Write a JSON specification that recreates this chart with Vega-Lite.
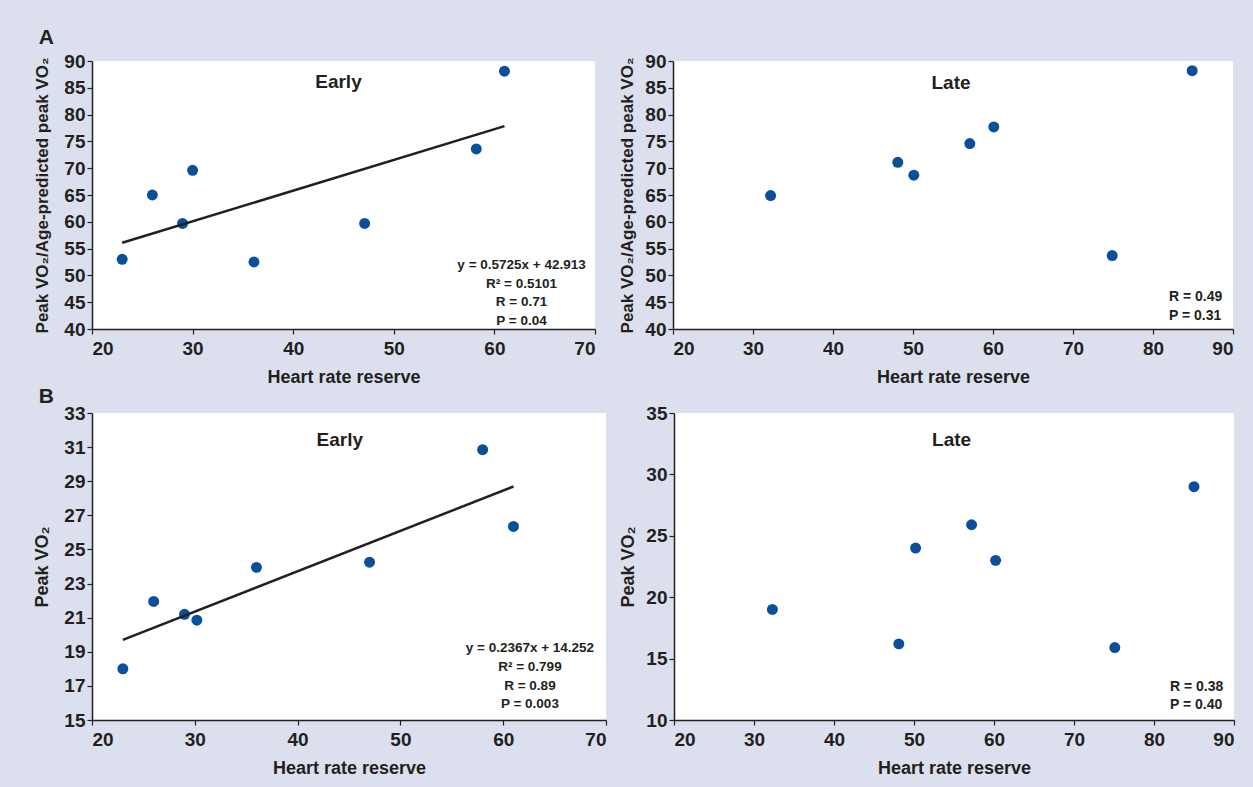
{
  "$schema": "https://vega.github.io/schema/vega-lite/v6.json",
  "background": "#dcdfee",
  "padding": {"left": 33, "top": 27, "right": 19, "bottom": 14},
  "spacing": 0,
  "datasets": {
    "points": [
      {"panel": "pctEarly", "hrr": 23, "value": 53.0},
      {"panel": "pctEarly", "hrr": 26, "value": 65.0},
      {"panel": "pctEarly", "hrr": 29, "value": 59.7},
      {"panel": "pctEarly", "hrr": 30, "value": 69.6},
      {"panel": "pctEarly", "hrr": 36.1, "value": 52.5},
      {"panel": "pctEarly", "hrr": 47.1, "value": 59.7},
      {"panel": "pctEarly", "hrr": 58.2, "value": 73.6},
      {"panel": "pctEarly", "hrr": 61, "value": 88.1},
      {"panel": "pctLate", "hrr": 32.2, "value": 64.9},
      {"panel": "pctLate", "hrr": 48.1, "value": 71.1},
      {"panel": "pctLate", "hrr": 50.1, "value": 68.7},
      {"panel": "pctLate", "hrr": 57.1, "value": 74.6},
      {"panel": "pctLate", "hrr": 60.1, "value": 77.7},
      {"panel": "pctLate", "hrr": 74.9, "value": 53.7},
      {"panel": "pctLate", "hrr": 84.9, "value": 88.2},
      {"panel": "vo2Early", "hrr": 23, "value": 18.0},
      {"panel": "vo2Early", "hrr": 26, "value": 21.95},
      {"panel": "vo2Early", "hrr": 29, "value": 21.2},
      {"panel": "vo2Early", "hrr": 30.2, "value": 20.85},
      {"panel": "vo2Early", "hrr": 36, "value": 23.95},
      {"panel": "vo2Early", "hrr": 47, "value": 24.25},
      {"panel": "vo2Early", "hrr": 58, "value": 30.85},
      {"panel": "vo2Early", "hrr": 61, "value": 26.35},
      {"panel": "vo2Late", "hrr": 32.3, "value": 19.0},
      {"panel": "vo2Late", "hrr": 48.1, "value": 16.2},
      {"panel": "vo2Late", "hrr": 50.2, "value": 24.0},
      {"panel": "vo2Late", "hrr": 57.2, "value": 25.9},
      {"panel": "vo2Late", "hrr": 60.2, "value": 23.0},
      {"panel": "vo2Late", "hrr": 75.1, "value": 15.9},
      {"panel": "vo2Late", "hrr": 85.0, "value": 29.0}
    ],
    "fits": [
      {"panel": "pctEarly", "hrr": 23, "value": 56.08},
      {"panel": "pctEarly", "hrr": 61, "value": 77.84},
      {"panel": "vo2Early", "hrr": 23, "value": 19.70},
      {"panel": "vo2Early", "hrr": 61, "value": 28.69}
    ]
  },
  "config": {
    "font": "Liberation Sans",
    "view": {"fill": "white", "stroke": null},
    "axis": {
      "grid": false,
      "format": "d",
      "labelFont": "Liberation Sans",
      "labelFontSize": 19,
      "labelFontWeight": "bold",
      "labelColor": "#231f20",
      "labelOverlap": false,
      "tickCount": 30,
      "titleFont": "Liberation Sans",
      "titleFontSize": 18,
      "titleFontWeight": "bold",
      "titleColor": "#231f20",
      "domainColor": "#231f20",
      "domainWidth": 1.5,
      "tickColor": "#231f20",
      "tickWidth": 1.2,
      "tickSize": 5,
      "labelPadding": 2
    },
    "axisX": {"titlePadding": 10, "labelPadding": 5},
    "axisY": {"titlePadding": 12},
    "title": {"font": "Liberation Sans", "fontSize": 21, "fontWeight": "bold", "color": "#231f20", "anchor": "start"},
    "text": {"font": "Liberation Sans", "fontWeight": "bold", "color": "#231f20"}
  },
  "vconcat": [
    {
      "title": {"text": "A", "offset": 4, "dx": 5},
      "spacing": 22,
      "hconcat": [
        {
          "width": 503, "height": 268,
          "layer": [
            {
              "data": {"name": "points"},
              "transform": [{"filter": "datum.panel === 'pctEarly'"}],
              "mark": {"type": "point", "filled": true, "size": 120, "opacity": 1, "color": "#0b4f9c"},
              "encoding": {
                "x": {"field": "hrr", "type": "quantitative", "scale": {"domain": [20, 70], "nice": false, "zero": false}, "axis": {"values": [20, 30, 40, 50, 60, 70], "format": "d", "tickCount": 30, "labelOverlap": false, "title": "Heart rate reserve"}},
                "y": {"field": "value", "type": "quantitative", "scale": {"domain": [40, 90], "nice": false, "zero": false}, "axis": {"values": [40, 45, 50, 55, 60, 65, 70, 75, 80, 85, 90], "format": "d", "tickCount": 30, "labelOverlap": false, "title": "Peak VO₂/Age-predicted peak VO₂", "titleFontSize": 17}}
              }
            },
            {
              "data": {"name": "fits"},
              "transform": [{"filter": "datum.panel === 'pctEarly'"}],
              "mark": {"type": "line", "color": "#231f20", "strokeWidth": 2.5},
              "encoding": {"x": {"field": "hrr", "type": "quantitative"}, "y": {"field": "value", "type": "quantitative"}}
            },
            {
              "data": {"values": [{}]},
              "mark": {"type": "text", "fontSize": 19, "align": "center", "baseline": "alphabetic", "text": "Early"},
              "encoding": {"x": {"datum": 44.5}, "y": {"datum": 85.0}}
            },
            {
              "data": {"values": [{}]},
              "mark": {"type": "text", "fontSize": 13.5, "align": "center", "baseline": "alphabetic", "lineHeight": 18.7, "text": ["y = 0.5725x + 42.913", "R² = 0.5101", "R = 0.71", "P = 0.04"]},
              "encoding": {"x": {"datum": 62.7}, "y": {"datum": 51.2}}
            }
          ]
        },
        {
          "width": 560, "height": 268,
          "layer": [
            {
              "data": {"name": "points"},
              "transform": [{"filter": "datum.panel === 'pctLate'"}],
              "mark": {"type": "point", "filled": true, "size": 120, "opacity": 1, "color": "#0b4f9c"},
              "encoding": {
                "x": {"field": "hrr", "type": "quantitative", "scale": {"domain": [20, 90], "nice": false, "zero": false}, "axis": {"values": [20, 30, 40, 50, 60, 70, 80, 90], "format": "d", "tickCount": 30, "labelOverlap": false, "title": "Heart rate reserve"}},
                "y": {"field": "value", "type": "quantitative", "scale": {"domain": [40, 90], "nice": false, "zero": false}, "axis": {"values": [40, 45, 50, 55, 60, 65, 70, 75, 80, 85, 90], "format": "d", "tickCount": 30, "labelOverlap": false, "title": "Peak VO₂/Age-predicted peak VO₂", "titleFontSize": 17, "titlePadding": 8}}
              }
            },
            {
              "data": {"values": [{}]},
              "mark": {"type": "text", "fontSize": 19, "align": "center", "baseline": "alphabetic", "text": "Late"},
              "encoding": {"x": {"datum": 54.75}, "y": {"datum": 84.7}}
            },
            {
              "data": {"values": [{}]},
              "mark": {"type": "text", "fontSize": 14, "align": "left", "baseline": "alphabetic", "lineHeight": 18.7, "text": ["R = 0.49", "P = 0.31"]},
              "encoding": {"x": {"datum": 82}, "y": {"datum": 45.2}}
            }
          ]
        }
      ]
    },
    {
      "title": {"text": "B", "offset": -3, "dx": 5},
      "spacing": 12,
      "hconcat": [
        {
          "width": 514, "height": 307,
          "layer": [
            {
              "data": {"name": "points"},
              "transform": [{"filter": "datum.panel === 'vo2Early'"}],
              "mark": {"type": "point", "filled": true, "size": 120, "opacity": 1, "color": "#0b4f9c"},
              "encoding": {
                "x": {"field": "hrr", "type": "quantitative", "scale": {"domain": [20, 70], "nice": false, "zero": false}, "axis": {"values": [20, 30, 40, 50, 60, 70], "format": "d", "tickCount": 30, "labelOverlap": false, "title": "Heart rate reserve"}},
                "y": {"field": "value", "type": "quantitative", "scale": {"domain": [15, 33], "nice": false, "zero": false}, "axis": {"values": [15, 17, 19, 21, 23, 25, 27, 29, 31, 33], "format": "d", "tickCount": 30, "labelOverlap": false, "title": "Peak VO₂"}}
              }
            },
            {
              "data": {"name": "fits"},
              "transform": [{"filter": "datum.panel === 'vo2Early'"}],
              "mark": {"type": "line", "color": "#231f20", "strokeWidth": 2.5},
              "encoding": {"x": {"field": "hrr", "type": "quantitative"}, "y": {"field": "value", "type": "quantitative"}}
            },
            {
              "data": {"values": [{}]},
              "mark": {"type": "text", "fontSize": 19, "align": "center", "baseline": "alphabetic", "text": "Early"},
              "encoding": {"x": {"datum": 44.1}, "y": {"datum": 31.08}}
            },
            {
              "data": {"values": [{}]},
              "mark": {"type": "text", "fontSize": 13.5, "align": "center", "baseline": "alphabetic", "lineHeight": 18.7, "text": ["y = 0.2367x + 14.252", "R² = 0.799", "R = 0.89", "P = 0.003"]},
              "encoding": {"x": {"datum": 62.6}, "y": {"datum": 18.97}}
            }
          ]
        },
        {
          "width": 560, "height": 307,
          "layer": [
            {
              "data": {"name": "points"},
              "transform": [{"filter": "datum.panel === 'vo2Late'"}],
              "mark": {"type": "point", "filled": true, "size": 120, "opacity": 1, "color": "#0b4f9c"},
              "encoding": {
                "x": {"field": "hrr", "type": "quantitative", "scale": {"domain": [20, 90], "nice": false, "zero": false}, "axis": {"values": [20, 30, 40, 50, 60, 70, 80, 90], "format": "d", "tickCount": 30, "labelOverlap": false, "title": "Heart rate reserve"}},
                "y": {"field": "value", "type": "quantitative", "scale": {"domain": [10, 35], "nice": false, "zero": false}, "axis": {"values": [10, 15, 20, 25, 30, 35], "format": "d", "tickCount": 30, "labelOverlap": false, "title": "Peak VO₂", "titlePadding": 8}}
              }
            },
            {
              "data": {"values": [{}]},
              "mark": {"type": "text", "fontSize": 19, "align": "center", "baseline": "alphabetic", "text": "Late"},
              "encoding": {"x": {"datum": 54.7}, "y": {"datum": 32.34}}
            },
            {
              "data": {"values": [{}]},
              "mark": {"type": "text", "fontSize": 14, "align": "left", "baseline": "alphabetic", "lineHeight": 18.7, "text": ["R = 0.38", "P = 0.40"]},
              "encoding": {"x": {"datum": 82}, "y": {"datum": 12.4}}
            }
          ]
        }
      ]
    }
  ]
}
